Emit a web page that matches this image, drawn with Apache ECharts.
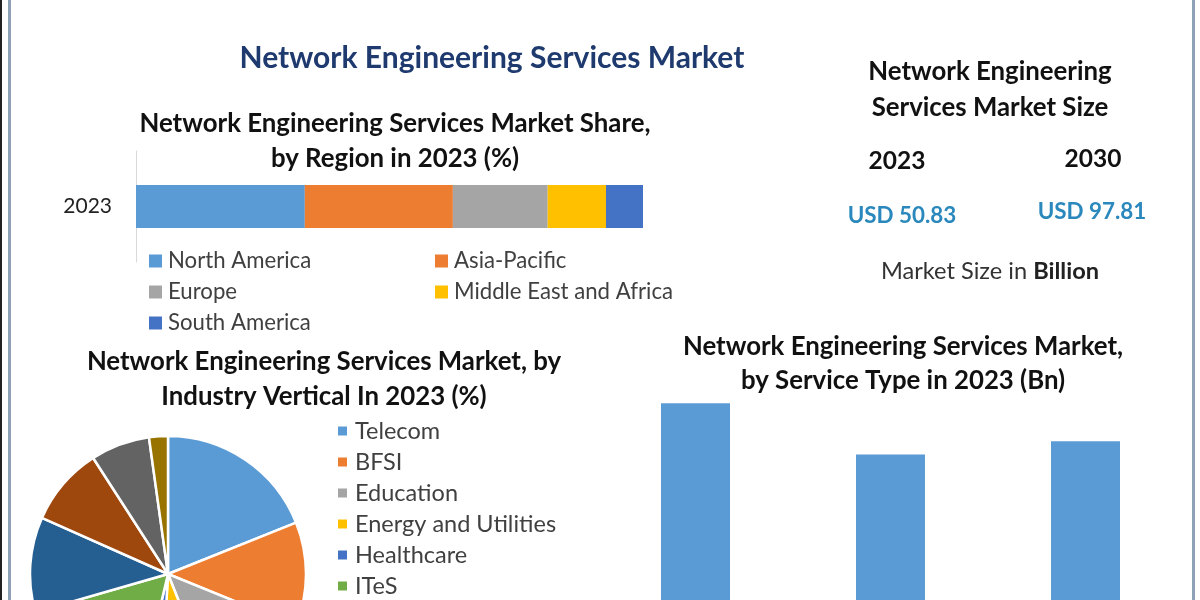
<!DOCTYPE html>
<html><head><meta charset="utf-8">
<style>html,body{margin:0;padding:0;background:#fff}#c{width:1200px;height:600px}</style>
<script src="https://cdn.jsdelivr.net/npm/echarts@6/dist/echarts.min.js"></script>
</head><body><div id="c"></div>
<script>
const regionYear = ['2023'];
const regionNames = ['North America','Asia-Pacific','Europe','Middle East and Africa','South America'];
const regionShares = [33.3,29.2,18.7,11.5,7.3];
const verticalNames = ['Telecom','BFSI','Education','Energy and Utilities','Healthcare','ITeS','Segment 7','Segment 8','Segment 9','Segment 10'];
const verticalShares = [18.9,12.2,12.8,6.9,2.8,16.8,11.1,9.2,6.9,2.2];
const serviceTypes = ['Type 1','Type 2','Type 3'];
const serviceValues = [19.4,15.2,16.3];
const sizeYears = ['2023','2030'];
const sizeValues = ['USD 50.83','USD 97.81'];

const FONT = 'Lato, "Open Sans", sans-serif';
const regionColors = ['#5B9BD5','#ED7D31','#A5A5A5','#FFC000','#4472C4'];
const pieColors = ['#5B9BD5','#ED7D31','#A5A5A5','#FFC000','#4472C4','#70AD47','#255E91','#9E480E','#636363','#997300'];

function t(text,x,y,size,color,weight){
  return {text:text,left:x,top:y,textAlign:'center',textVerticalAlign:'middle',padding:0,
    textStyle:{fontFamily:FONT,fontSize:size,color:color||'#111',fontWeight:weight||'bold',lineHeight:size+4}};
}
const vline=(x,w,c)=>({type:'rect',silent:true,shape:{x:x,y:0,width:w,height:600},style:{fill:c}});

const chart = echarts.init(document.getElementById('c'),null,{renderer:'canvas'});
chart.setOption({
  animation:false,
  backgroundColor:'#fff',
  graphic:[vline(0,2,'#222'),vline(8,3,'#8ea3b8'),vline(1192,3,'#8ea3b8')],
  title:[
    t('Network Engineering Services Market',492,58,30,'#1F3A6E'),
    t('Network Engineering Services Market Share,',395,124,25.8),
    t('by Region in 2023 (%)',395,159,25.8),
    t('Network Engineering Services Market, by',324,362,25.8),
    t('Industry Vertical In 2023 (%)',324,397,25.8),
    t('Network Engineering',990,72,25.8),
    t('Services Market Size',990,108,25.8),
    t(sizeYears[0],897,161,24.5),
    t(sizeYears[1],1093,159,24.5),
    t(sizeValues[0],902,216,22.4,'#2B88BC'),
    t(sizeValues[1],1092,212,22.4,'#2B88BC'),
    {text:'Market Size in {b|Billion}',left:990,top:271,textAlign:'center',textVerticalAlign:'middle',padding:0,
     textStyle:{fontFamily:FONT,fontSize:23.6,color:'#333',fontWeight:'normal',
       rich:{b:{fontFamily:FONT,fontSize:23.6,fontWeight:'bold',color:'#222'}}}},
    t('Network Engineering Services Market,',903,347,25.8),
    t('by Service Type in 2023 (Bn)',903,381,25.8)
  ],
  legend:[
    {left:149,top:250,orient:'vertical',itemGap:9,itemWidth:13,itemHeight:13,icon:'rect',
     data:[regionNames[0],regionNames[2],regionNames[4]],selectedMode:false,padding:0,
     textStyle:{fontFamily:FONT,fontSize:22.2,color:'#404040',padding:[0,0,0,1]}},
    {left:435,top:250,orient:'vertical',itemGap:9,itemWidth:13,itemHeight:13,icon:'rect',
     data:[regionNames[1],regionNames[3]],selectedMode:false,padding:0,
     textStyle:{fontFamily:FONT,fontSize:22.2,color:'#404040',padding:[0,0,0,1]}},
    {left:336,top:419,height:240,orient:'vertical',itemGap:7,itemWidth:11,itemHeight:11,icon:'rect',
     data:verticalNames.slice(0,6),selectedMode:false,padding:0,
     textStyle:{fontFamily:FONT,fontSize:23.5,color:'#404040',padding:[0,0,0,2]}}
  ],
  grid:[
    {left:136,top:151,width:507,height:111},
    {left:598,top:335,width:585,height:305,outerBoundsMode:'none'}
  ],
  xAxis:[
    {gridIndex:0,type:'value',min:0,max:100,show:false},
    {gridIndex:1,type:'category',data:serviceTypes,show:false}
  ],
  yAxis:[
    {gridIndex:0,type:'category',data:regionYear,
     axisLine:{show:true,lineStyle:{color:'#d9d9d9',width:1}},axisTick:{show:false},
     axisLabel:{margin:24,fontFamily:FONT,fontSize:21,color:'#222'}},
    {gridIndex:1,type:'value',min:0,max:25,show:false}
  ],
  series:[
    ...regionNames.map((n,i)=>({type:'bar',name:n,stack:'r',xAxisIndex:0,yAxisIndex:0,
      barWidth:43,data:[regionShares[i]],itemStyle:{color:regionColors[i]}})),
    {type:'bar',name:'Service Type',xAxisIndex:1,yAxisIndex:1,barWidth:69,data:serviceValues,itemStyle:{color:'#5B9BD5'}},
    {type:'pie',name:'Industry Vertical',center:[168,574],radius:[0,138],startAngle:90,clockwise:true,
     label:{show:false},labelLine:{show:false},
     color:pieColors,
     itemStyle:{borderColor:'#fff',borderWidth:2.5},
     data:verticalNames.map((n,i)=>({name:n,value:verticalShares[i]}))}
  ]
});
</script></body></html>
